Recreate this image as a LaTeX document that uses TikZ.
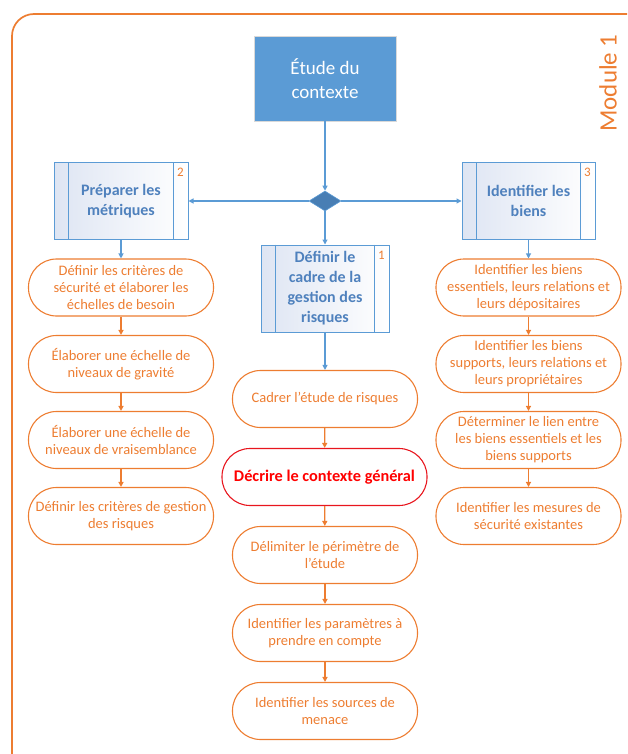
\documentclass[tikz,border=0pt]{standalone}
\usepackage{fontspec}
\setmainfont{Carlito}
\usetikzlibrary{arrows.meta,shapes.geometric}

\definecolor{modorange}{RGB}{237,125,49}
\definecolor{modblue}{RGB}{91,155,213}
\definecolor{darkblue}{RGB}{72,126,180}
\definecolor{txtblue}{RGB}{79,129,189}
\definecolor{modred}{RGB}{232,22,30}
\definecolor{paleblue}{RGB}{222,229,243}

\begin{document}
\begin{tikzpicture}[x=1pt,y=-1pt,
	start/.style = {rectangle, draw=black!15, fill=modblue, text=white, minimum width=142pt, minimum height=85pt, align=center, font=\fontsize{19}{24}\selectfont},
	proc/.style = {rectangle, draw=modblue, line width=1pt, left color=paleblue, right color=white, text=txtblue, align=center, inner sep=0pt, font=\bfseries\fontsize{16}{20}\selectfont},
	task/.style = {rectangle, rounded corners=28pt, draw=modorange, line width=1.1pt, text=modorange, minimum width=185pt, minimum height=57pt, inner sep=2pt, align=center, font=\fontsize{14.5}{17}\selectfont},
	keytask/.style = {task, draw=modred, text=red, minimum width=205pt, font=\bfseries\fontsize{16.3}{19}\selectfont},
	num/.style = {text=modorange, inner sep=0pt, font=\fontsize{13}{15}\selectfont},
	blink/.style = {draw=modblue, line width=1.1pt, -{Triangle[length=5pt,width=5pt]}},
	olink/.style = {draw=modorange, line width=1.3pt, -{Triangle[length=5pt,width=5pt]}}]
	
	\useasboundingbox (0,0) rectangle (627,754);
	
	% Module frame
	\draw[modorange, line width=1.7pt, rounded corners=22pt] (12,754) -- (12,14) -- (627,14);
	\node[text=modorange, rotate=90, font=\fontsize{25}{30}\selectfont] (module) at (608,83) {Module 1};
	
	% Start and branching
	\node[start] (etude) at (325,78.5) {Étude du\\contexte};
	\node[diamond, fill=darkblue, draw=modblue, line width=.6pt, minimum width=32pt, minimum height=20pt, inner sep=0pt] (branch) at (325,201) {};
	
	% Predefined processes
	\node[proc, minimum width=134pt, minimum height=76pt] (prep) at (121,201) {Préparer les\\métriques};
	\node[proc, minimum width=133pt, minimum height=76pt] (ident) at (528.5,201) {Identifier les\\biens};
	\node[proc, minimum width=128pt, minimum height=87pt] (cadre) at (325,288.5) {Définir le\\cadre de la\\gestion des\\risques};
	\foreach \b in {prep,ident,cadre} {
		\draw[modblue, line width=1pt] ([xshift=15pt]\b.north west) -- ([xshift=15pt]\b.south west);
		\draw[modblue, line width=1pt] ([xshift=-15pt]\b.north east) -- ([xshift=-15pt]\b.south east);
	}
	\node[num] (n2) at ([xshift=-8pt,yshift=-10pt]prep.north east) {2};
	\node[num] (n3) at ([xshift=-8pt,yshift=-10pt]ident.north east) {3};
	\node[num] (n1) at ([xshift=-8pt,yshift=-11pt]cadre.north east) {1};
	
	% Left column
	\node[task] (l1) at (121,287.5) {Définir les critères de\\sécurité et élaborer les\\échelles de besoin};
	\node[task] (l2) at (121,364) {Élaborer une échelle de\\niveaux de gravité};
	\node[task] (l3) at (121,440) {Élaborer une échelle de\\niveaux de vraisemblance};
	\node[task] (l4) at (121,516) {Définir les critères de gestion\\des risques};
	
	% Centre column
	\node[task] (c1) at (325,399) {Cadrer l’étude de risques};
	\node[keytask] (c2) at (324.5,477) {Décrire le contexte général};
	\node[task] (c3) at (325,555) {Délimiter le périmètre de\\l’étude};
	\node[task] (c4) at (325,633) {Identifier les paramètres à\\prendre en compte};
	\node[task] (c5) at (325,711) {Identifier les sources de\\menace};
	
	% Right column
	\node[task] (r1) at (528.5,287.5) {Identifier les biens\\essentiels, leurs relations et\\leurs dépositaires};
	\node[task] (r2) at (528.5,364) {Identifier les biens\\supports, leurs relations et\\leurs propriétaires};
	\node[task] (r3) at (528.5,440) {Déterminer le lien entre\\les biens essentiels et les\\biens supports};
	\node[task] (r4) at (528.5,516) {Identifier les mesures de\\sécurité existantes};
	
	% Blue connectors
	\draw[blink] (etude) -- (branch);
	\draw[blink] (branch) -- (prep);
	\draw[blink] (branch) -- (ident);
	\draw[blink] (branch) -- (cadre);
	\draw[blink] (prep) -- (l1);
	\draw[blink] (ident) -- (r1);
	\draw[blink] (cadre) -- (c1);
	
	% Orange connectors
	\foreach \a/\b in {l1/l2,l2/l3,l3/l4,c1/c2,c2/c3,c3/c4,c4/c5,r1/r2,r2/r3,r3/r4}
		\draw[olink] (\a) -- (\b);
	
\end{tikzpicture}
\end{document}
